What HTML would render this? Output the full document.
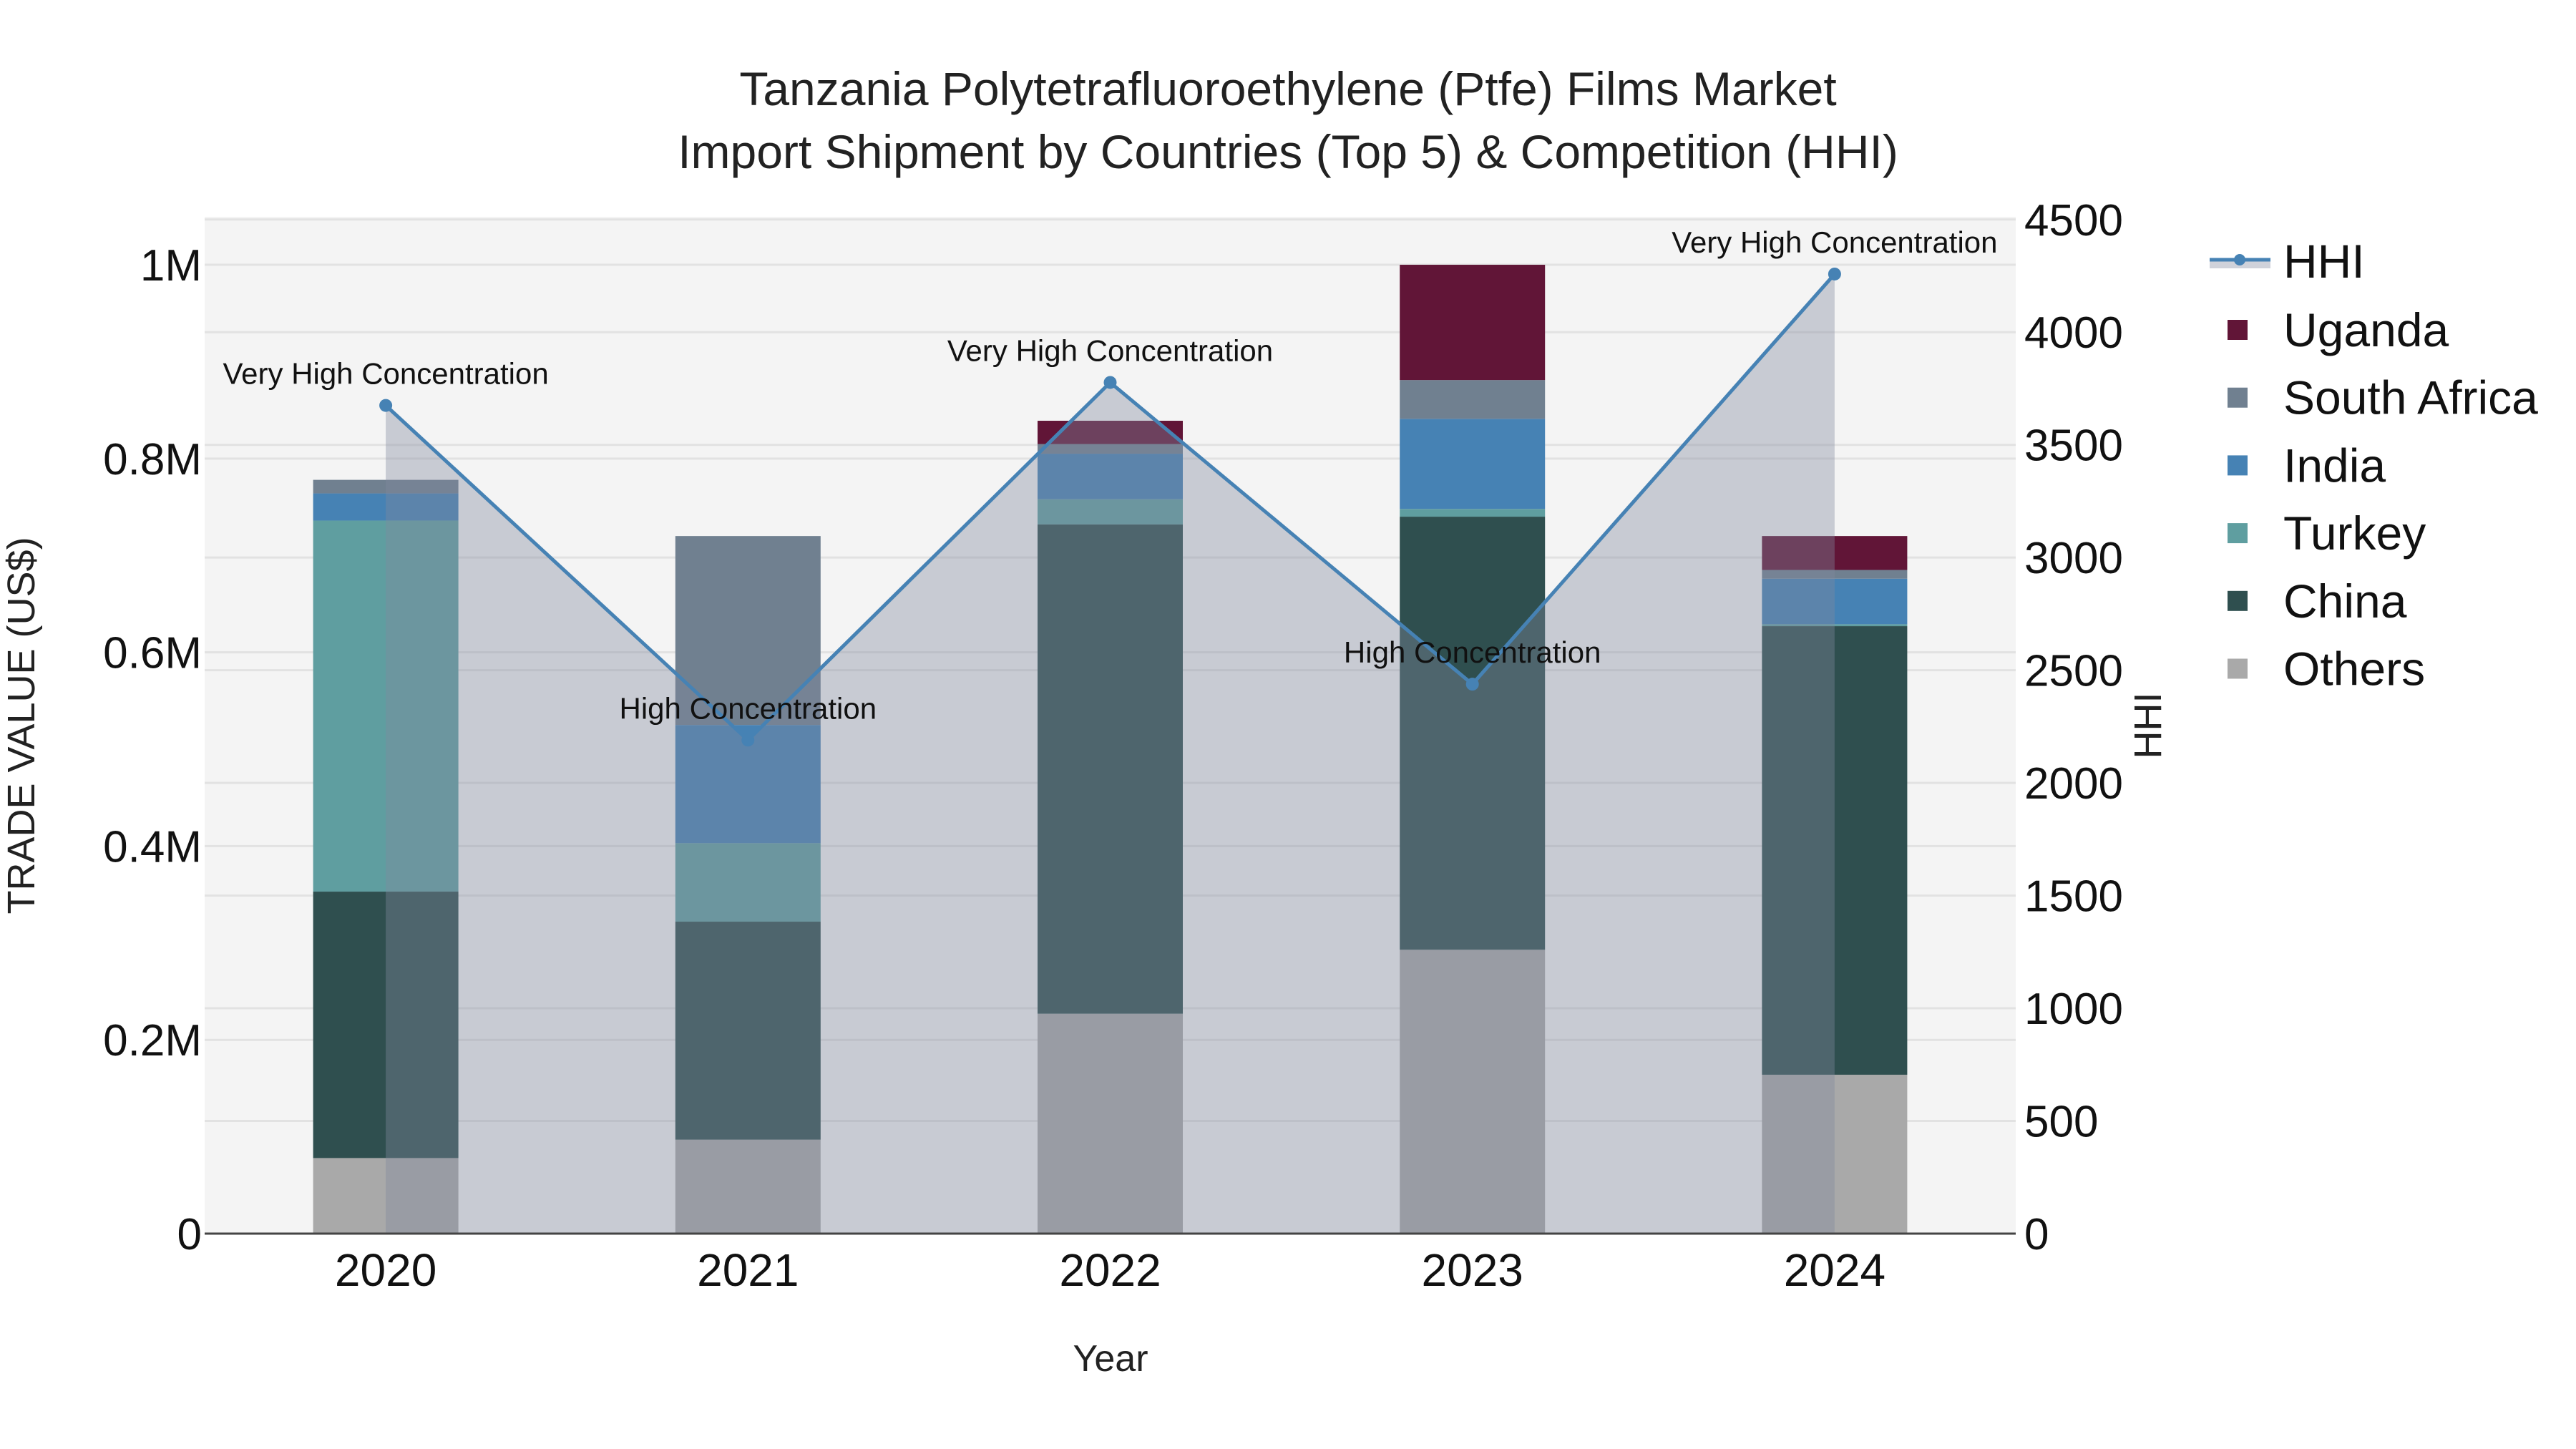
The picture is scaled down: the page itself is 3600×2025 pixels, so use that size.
<!DOCTYPE html>
<html><head><meta charset="utf-8">
<style>
html,body{margin:0;padding:0;background:#fff;}
svg{display:block;font-family:"Liberation Sans",sans-serif;}
</style></head>
<body>
<svg id="chart" width="3600" height="2025" viewBox="0 0 3600 2025" xmlns="http://www.w3.org/2000/svg">
<rect x="0" y="0" width="3600" height="2025" fill="#ffffff"/>
<rect x="286" y="303" width="2531" height="1421" fill="#f4f4f4"/>
<g id="grid"></g>
<g id="bars"></g>
<g id="hhi"></g>
<g id="axes"></g>
<text x="1800" y="147" font-size="66" text-anchor="middle" fill="#222">Tanzania Polytetrafluoroethylene (Ptfe) Films Market</text>
<text x="1800" y="235" font-size="66" text-anchor="middle" fill="#222">Import Shipment by Countries (Top 5) &amp; Competition (HHI)</text>
<text x="1552" y="1916" font-size="52" text-anchor="middle" fill="#222">Year</text>
<text transform="translate(48,1014) rotate(-90)" font-size="54" text-anchor="middle" fill="#222">TRADE VALUE (US$)</text>
<text transform="translate(3020,1014) rotate(-90)" font-size="54" text-anchor="middle" fill="#222">HHI</text>
<g id="legend"></g>
</svg>
<script>
const years = ["2020","2021","2022","2023","2024"];
const seriesNames = ["Others","China","Turkey","India","South Africa","Uganda"];
const others = [0.078,0.097,0.227,0.293,0.164];
const china = [0.275,0.225,0.505,0.447,0.463];
const turkey = [0.383,0.081,0.026,0.008,0.002];
const india = [0.028,0.122,0.047,0.093,0.047];
const southAfrica = [0.014,0.195,0.010,0.040,0.009];
const uganda = [0,0,0.024,0.119,0.035];
const hhi = [3675,2190,3777,2438,4258];
const hhiLabels = ["Very High Concentration","High Concentration","Very High Concentration","High Concentration","Very High Concentration"];
const leftTicks = [0,0.2,0.4,0.6,0.8,1.0];
const leftTickLabels = ["0","0.2M","0.4M","0.6M","0.8M","1M"];
const rightTicks = [0,500,1000,1500,2000,2500,3000,3500,4000,4500];
const colors = ["#a9a9a9","#2f4f4f","#5f9ea0","#4682b4","#708090","#611537"];

const NS="http://www.w3.org/2000/svg";
const L=286,R=2817,T=303,B=1724;
const yMax=1.0495;
const y=v=>B-(v/yMax)*(B-T);
const yH=v=>B-(v/4512)*(B-T);
const band=(R-L)/years.length;
const xC=i=>L+band*(i+0.5);
const bw=203;
function mk(tag,attrs,parent){const e=document.createElementNS(NS,tag);for(const k in attrs)e.setAttribute(k,attrs[k]);parent.appendChild(e);return e;}

const grid=document.getElementById('grid');
leftTicks.forEach(t=>{const g=mk('line',{x1:L,x2:R,y1:y(t),y2:y(t),stroke:'#e2e2e2','stroke-width':3},grid);

});
rightTicks.forEach(t=>{const g=mk('line',{x1:L,x2:R,y1:yH(t),y2:yH(t),stroke:'#e2e2e2','stroke-width':3},grid);

});

const bars=document.getElementById('bars');
const series=[others,china,turkey,india,southAfrica,uganda];
years.forEach((yr,i)=>{let base=0;series.forEach((s,k)=>{const v=s[i];if(v>0){const r=mk('rect',{x:xC(i)-bw/2,y:y(base+v),width:bw,height:y(base)-y(base+v),fill:colors[k]},bars);

}base+=v;});});

const hg=document.getElementById('hhi');
let pts=hhi.map((v,i)=>xC(i)+','+yH(v));
const area=mk('polygon',{points:xC(0)+','+B+' '+pts.join(' ')+' '+xC(hhi.length-1)+','+B,fill:'rgb(130,136,158)','fill-opacity':0.38},hg);


const line=mk('polyline',{points:pts.join(' '),fill:'none',stroke:'#4682b4','stroke-width':5},hg);


hhi.forEach((v,i)=>{const c=mk('circle',{cx:xC(i),cy:yH(v),r:9,fill:'#4682b4'},hg);


const t=mk('text',{x:xC(i),y:yH(v)-30,'font-size':42,'text-anchor':'middle',fill:'#111'},hg);t.textContent=hhiLabels[i];

});

const ax=document.getElementById('axes');
const zl=mk('line',{x1:L,x2:R,y1:B,y2:B,stroke:'#444','stroke-width':3},ax);


leftTicks.forEach((t,i)=>{const e=mk('text',{x:282,y:y(t)+22,'font-size':62,'text-anchor':'end',fill:'#111'},ax);e.textContent=leftTickLabels[i];

});
rightTicks.forEach(t=>{const e=mk('text',{x:2829,y:yH(t)+22,'font-size':62,'text-anchor':'start',fill:'#111'},ax);e.textContent=String(t);

});
years.forEach((yr,i)=>{const e=mk('text',{x:xC(i),y:1797,'font-size':64,'text-anchor':'middle',fill:'#111'},ax);e.textContent=yr;

});

const lg=document.getElementById('legend');
const lyHHI=365;
const l1=mk('rect',{x:3088,y:lyHHI-2,width:85,height:12,fill:'rgb(130,136,158)','fill-opacity':0.38},lg);


const l2=mk('line',{x1:3088,x2:3173,y1:lyHHI-2,y2:lyHHI-2,stroke:'#4682b4','stroke-width':5},lg);


const l3=mk('circle',{cx:3130,cy:lyHHI-2,r:8,fill:'#4682b4'},lg);


const lt=mk('text',{x:3191,y:lyHHI+23,'font-size':66,fill:'#111'},lg);lt.textContent='HHI';


const legOrder=[5,4,3,2,1,0];
legOrder.forEach((k,j)=>{const cy=461+j*94.7;
const s=mk('rect',{x:3113,y:cy-14,width:28,height:28,fill:colors[k]},lg);


const t=mk('text',{x:3191,y:cy+23,'font-size':66,fill:'#111'},lg);t.textContent=seriesNames[k];

});
</script>
</body></html>
